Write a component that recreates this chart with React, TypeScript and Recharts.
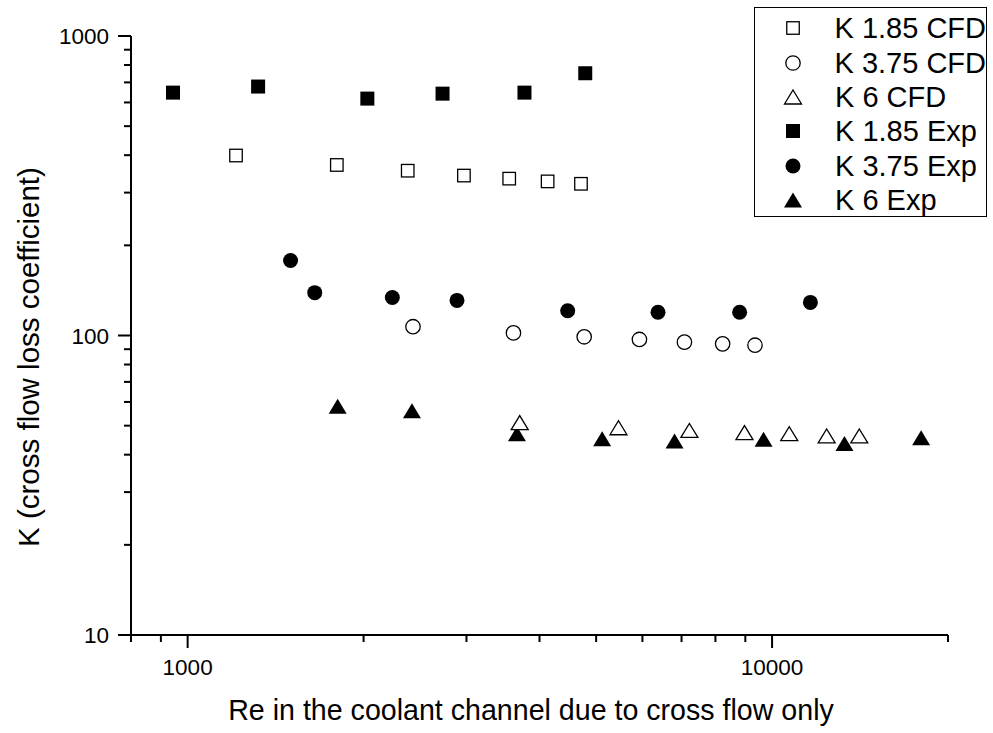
import React from "react";
import { ScatterChart, Scatter, XAxis, YAxis, Legend, Label } from "recharts";

// Re values (x) and K values (y)
const cfd185Re = [1210, 1800, 2380, 2970, 3550, 4130, 4710];
const cfd185K = [399, 371, 355, 342, 334, 327, 321];
const cfd375Re = [2430, 3610, 4770, 5930, 7080, 8230, 9350];
const cfd375K = [107, 102, 99, 97, 95, 93.8, 92.8];
const cfd6Re = [3700, 5460, 7220, 8970, 10700, 12400, 14100];
const cfd6K = [51.2, 49.2, 48.2, 47.4, 47, 46.2, 46.2];
const exp185Re = [944, 1320, 2030, 2730, 3770, 4790];
const exp185K = [647, 678, 618, 642, 647, 751];
const exp375Re = [1500, 1650, 2240, 2890, 4470, 6380, 8800, 11630];
const exp375K = [178, 139, 134, 131, 121, 119.6, 119.6, 129];
const exp6Re = [1806, 2420, 3660, 5120, 6810, 9670, 13300, 17990];
const exp6K = [58.1, 56.1, 47, 45.2, 44.4, 45, 43.6, 45.6];

const xTicks = [800, 900, 1000, 2000, 3000, 4000, 5000, 6000, 7000, 8000, 9000, 10000, 20000];
const yTicks = [10, 20, 30, 40, 50, 60, 70, 80, 90, 100, 200, 300, 400, 500, 600, 700, 800, 900, 1000];
const xLabels = [1000, 10000];
const yLabels = [10, 100, 1000];

type Kind = "square" | "circle" | "triangle";
type Series = { name: string; kind: Kind; filled: boolean; re: number[]; k: number[] };

const series: Series[] = [
  { name: "K 1.85 CFD", kind: "square", filled: false, re: cfd185Re, k: cfd185K },
  { name: "K 3.75 CFD", kind: "circle", filled: false, re: cfd375Re, k: cfd375K },
  { name: "K 6 CFD", kind: "triangle", filled: false, re: cfd6Re, k: cfd6K },
  { name: "K 1.85 Exp", kind: "square", filled: true, re: exp185Re, k: exp185K },
  { name: "K 3.75 Exp", kind: "circle", filled: true, re: exp375Re, k: exp375K },
  { name: "K 6 Exp", kind: "triangle", filled: true, re: exp6Re, k: exp6K },
];

const zip = (re: number[], k: number[]) => re.map((x, i) => ({ x, y: k[i] }));

const FONT = "'Liberation Sans', Arial, sans-serif";

const Marker = ({ cx, cy, kind, filled }: { cx: number; cy: number; kind: Kind; filled: boolean }) => {
  const fill = filled ? "#000" : "#fff";
  const stroke = filled ? "none" : "#000";
  const sw = 1.3;
  if (kind === "square") {
    const s = filled ? 14 : 12.5;
    return <rect x={cx - s / 2} y={cy - s / 2} width={s} height={s} fill={fill} stroke={stroke} strokeWidth={sw} />;
  }
  if (kind === "circle") {
    return <circle cx={cx} cy={cy} r={filled ? 7.5 : 7.2} fill={fill} stroke={stroke} strokeWidth={sw} />;
  }
  const w = filled ? 18 : 17;
  const h = filled ? 15 : 14;
  const pts = `${cx - w / 2},${cy + h / 2} ${cx + w / 2},${cy + h / 2} ${cx},${cy - h / 2}`;
  return <polygon points={pts} fill={fill} stroke={stroke} strokeWidth={sw} strokeLinejoin="miter" />;
};

const XTick = (props: any) => {
  const { x, y, payload } = props;
  const major = xLabels.includes(payload.value);
  return (
    <g>
      <line x1={x} x2={x} y1={y} y2={y + (major ? 13 : 7)} stroke="#000" strokeWidth={2} />
      {major && (
        <text x={x} y={y + 40} textAnchor="middle" fontSize={22.5} fontFamily={FONT} fill="#000">
          {payload.value}
        </text>
      )}
    </g>
  );
};

const YTick = (props: any) => {
  const { x, y, payload } = props;
  const major = yLabels.includes(payload.value);
  return (
    <g>
      <line x1={x - (major ? 13 : 7)} x2={x} y1={y} y2={y} stroke="#000" strokeWidth={2} />
      {major && (
        <text x={x - 22} y={y + 8} textAnchor="end" fontSize={22.5} fontFamily={FONT} fill="#000">
          {payload.value}
        </text>
      )}
    </g>
  );
};

const LegendBox = () => (
  <div
    style={{
      boxSizing: "border-box",
      width: 233,
      height: 210,
      border: "1px solid #000",
      background: "#fff",
      paddingTop: 3,
      fontFamily: FONT,
      fontSize: 29,
      color: "#000",
    }}
  >
    {series.map((s) => (
      <div key={s.name} style={{ display: "flex", alignItems: "center", height: 34.4 }}>
        <svg width={20} height={20} style={{ marginLeft: 28, marginRight: 32 }}>
          <Marker cx={10} cy={10} kind={s.kind} filled={s.filled} />
        </svg>
        <span style={{ whiteSpace: "nowrap", lineHeight: "34px" }}>{s.name}</span>
      </div>
    ))}
  </div>
);

// Exp series drawn first so CFD markers sit on top
const drawOrder = [3, 4, 5, 0, 1, 2];

export default function App() {
  return (
    <div style={{ position: "absolute", left: 0, top: 0, width: 993, height: 733, background: "#fff" }}>
      <ScatterChart width={993} height={733} margin={{ top: 36, right: 45, bottom: 0, left: 0 }}>
        <XAxis
          type="number"
          dataKey="x"
          scale="log"
          domain={[800, 20000]}
          allowDataOverflow
          ticks={xTicks}
          interval={0}
          height={98}
          tickSize={0}
          tickMargin={0}
          tickLine={false}
          tick={<XTick />}
          axisLine={{ stroke: "#000", strokeWidth: 2 }}
        >
          <Label
            content={() => (
              <text x={531} y={720} textAnchor="middle" fontSize={28.6} fontFamily={FONT} fill="#000">
                Re in the coolant channel due to cross flow only
              </text>
            )}
          />
        </XAxis>
        <YAxis
          type="number"
          dataKey="y"
          scale="log"
          domain={[10, 1000]}
          allowDataOverflow
          ticks={yTicks}
          interval={0}
          width={131}
          tickSize={0}
          tickMargin={0}
          tickLine={false}
          tick={<YTick />}
          axisLine={{ stroke: "#000", strokeWidth: 2 }}
        >
          <Label
            content={() => (
              <text
                x={38.5}
                y={357}
                transform="rotate(-90 38.5 357)"
                textAnchor="middle"
                fontSize={29.5}
                fontFamily={FONT}
                fill="#000"
              >
                K (cross flow loss coefficient)
              </text>
            )}
          />
        </YAxis>
        <Legend
          layout="horizontal"
          verticalAlign="middle"
          align="center"
          wrapperStyle={{ left: 754, top: 7, width: 233, height: 210 }}
          content={() => <LegendBox />}
        />
        {drawOrder.map((i) => {
          const s = series[i];
          return (
            <Scatter
              key={s.name}
              name={s.name}
              data={zip(s.re, s.k)}
              isAnimationActive={false}
              shape={(p: any) => <Marker cx={p.cx} cy={p.cy} kind={s.kind} filled={s.filled} />}
            />
          );
        })}
      </ScatterChart>
    </div>
  );
}
